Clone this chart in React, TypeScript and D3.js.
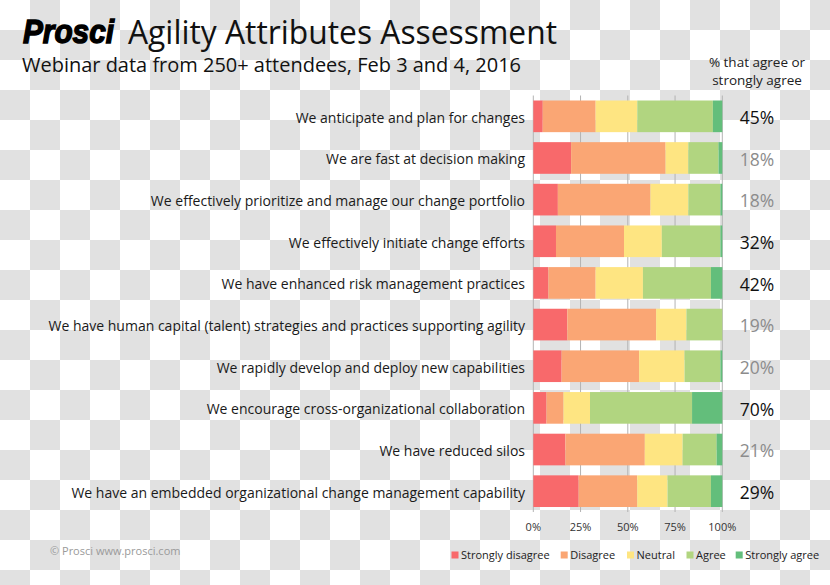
import React from "react";
import * as d3 from "d3";

const categories = [
  "We anticipate and plan for changes",
  "We are fast at decision making",
  "We effectively prioritize and manage our change portfolio",
  "We effectively initiate change efforts",
  "We have enhanced risk management practices",
  "We have human capital (talent) strategies and practices supporting agility",
  "We rapidly develop and deploy new capabilities",
  "We encourage cross-organizational collaboration",
  "We have reduced silos",
  "We have an embedded organizational change management capability",
];
const seriesNames = ["Strongly disagree", "Disagree", "Neutral", "Agree", "Strongly agree"];
const stronglyDisagree = [5, 20, 13, 12, 8, 18, 15, 7, 17, 24];
const disagree = [28, 50, 49, 36, 25, 47, 41, 9, 42, 31];
const neutral = [22, 12, 20, 20, 25, 16, 24, 14, 20, 16];
const agree = [40, 16, 17, 31, 36, 19, 19, 54, 18, 23];
const stronglyAgree = [5, 2, 1, 1, 6, 0, 1, 16, 3, 6];
const agreePct = [45, 18, 18, 32, 42, 19, 20, 70, 21, 29];
const xTicks = [0, 25, 50, 75, 100];
const colors = ["#f8696b", "#faa674", "#fee582", "#b1d580", "#63be7b"];

const FONT = "'Open Sans', 'Noto Sans', sans-serif";

export default function App() {
  const W = 830, H = 585;
  const x = d3.scaleLinear().domain([0, 100]).range([533.3, 722.3]);
  const y = d3.scaleBand<number>().domain(d3.range(categories.length)).range([95.5, 512]).paddingInner(0.24).paddingOuter(0.12);
  const seriesVals = [stronglyDisagree, disagree, neutral, agree, stronglyAgree];
  const rows = categories.map((c, i) => {
    const vals = seriesVals.map((s) => s[i]);
    return { c, i, vals };
  });
  const stack = d3.stack<any>().keys(d3.range(5).map(String)).value((d: any, k: string) => d.vals[+k]);
  const stacked = stack(rows);

  const legendX = [451.5, 560.7, 627, 686.5, 735.7];

  return (
    <svg width={W} height={H} style={{ position: "absolute", left: 0, top: 0 }} fontFamily={FONT}>
      <defs>
        <pattern id="chk" width="60" height="60" patternUnits="userSpaceOnUse">
          <rect width="60" height="60" fill="#ffffff" />
          <rect x="30" y="0" width="30" height="30" fill="#e1e1e1" />
          <rect x="0" y="30" width="30" height="30" fill="#e1e1e1" />
        </pattern>
      </defs>
      <rect width={W} height={H} fill="url(#chk)" />

      {/* Title */}
      <text x={23} y={43} fontFamily="'Liberation Sans', Arial, sans-serif" fontWeight={900} fontStyle="italic" fontSize={33} fill="#000" textLength={91} lengthAdjust="spacingAndGlyphs" stroke="#000" strokeWidth={1.4}>Prosci</text>
      <text x={128} y={43.5} fontSize={32} fill="#111" textLength={429} lengthAdjust="spacingAndGlyphs">Agility Attributes Assessment</text>
      <text x={22} y={71.5} fontSize={20.5} fill="#111" textLength={499} lengthAdjust="spacingAndGlyphs">Webinar data from 250+ attendees, Feb 3 and 4, 2016</text>

      {/* Header */}
      <text x={757} y={67} fontSize={13.5} fill="#222" textAnchor="middle">% that agree or</text>
      <text x={757} y={85} fontSize={13.5} fill="#222" textAnchor="middle">strongly agree</text>

      {/* gridlines */}
      {xTicks.map((t) => (
        <line key={t} x1={x(t)} x2={x(t)} y1={95.5} y2={512} stroke="#b3b3b3" strokeWidth={1} />
      ))}

      {/* bars */}
      {stacked.map((layer, si) => (
        <g key={si} fill={colors[si]}>
          {layer.map((d, ri) => (
            <rect key={ri} x={x(d[0])} y={y(ri)} width={Math.max(0, x(d[1]) - x(d[0]))} height={y.bandwidth()} />
          ))}
        </g>
      ))}

      {/* category labels */}
      {categories.map((c, i) => (
        <text key={c} x={525} y={(y(i) as number) + y.bandwidth() / 2 + 1.5} dy="0.35em" textAnchor="end" fontSize={14} fill="#1a1a1a">{c}</text>
      ))}

      {/* percentages */}
      {agreePct.map((p, i) => (
        <text key={i} x={757} y={(y(i) as number) + y.bandwidth() / 2 + 1.5} dy="0.36em" textAnchor="middle" fontSize={17.5} fill={p >= 25 ? "#111" : "#8c8c8c"}>{p}%</text>
      ))}

      {/* x tick labels */}
      {xTicks.map((t) => (
        <text key={t} x={x(t)} y={527} dy="0.35em" textAnchor="middle" fontSize={11} fill="#333">{t}%</text>
      ))}

      {/* copyright */}
      <text x={50} y={551} dy="0.35em" fontSize={11} fill="#9a9a9a">© Prosci www.prosci.com</text>

      {/* legend */}
      {seriesNames.map((n, i) => (
        <g key={n} transform={`translate(${legendX[i]},555)`}>
          <rect x={0} y={-3.5} width={7} height={7} fill={colors[i]} />
          <text x={9.5} y={0} dy="0.35em" fontSize={11} fill="#222">{n}</text>
        </g>
      ))}
    </svg>
  );
}
